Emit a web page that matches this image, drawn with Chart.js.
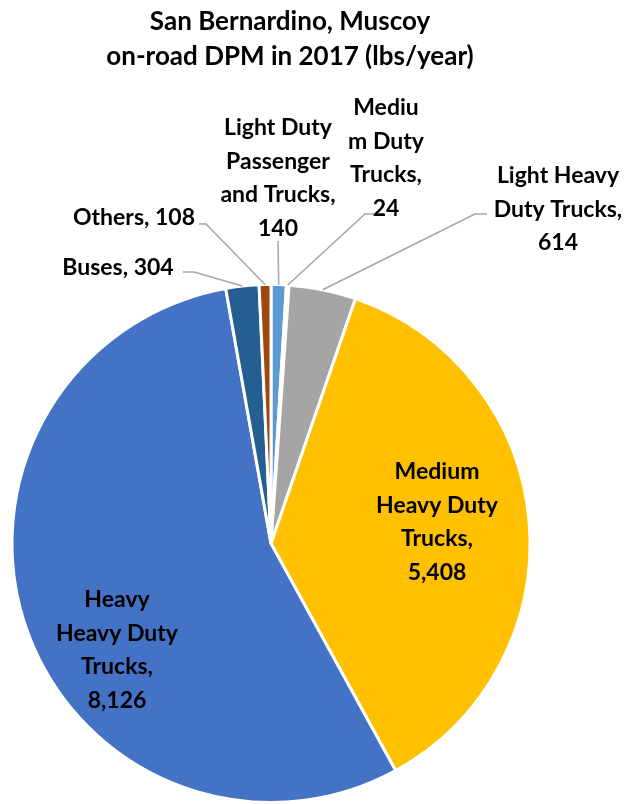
<!DOCTYPE html>
<html>
<head>
<meta charset="utf-8">
<script src="https://cdn.jsdelivr.net/npm/chart.js@4.4.1/dist/chart.umd.min.js"></script>
<style>
  html, body { margin: 0; padding: 0; background: #fff; }
  canvas { display: block; }
</style>
</head>
<body>
<canvas id="dpm-pie" width="626" height="804"></canvas>
<script>
/* ---- Data ---- */
const TITLE_LINES = ['San Bernardino, Muscoy', 'on-road DPM in 2017 (lbs/year)'];
const CATEGORIES = [
  'Light Duty Passenger and Trucks',
  'Medium Duty Trucks',
  'Light Heavy Duty Trucks',
  'Medium Heavy Duty Trucks',
  'Heavy Heavy Duty Trucks',
  'Buses',
  'Others',
];
const VALUES = [140, 24, 614, 5408, 8126, 304, 108];
const COLORS = ['#5B9BD5', '#70AD47', '#A5A5A5', '#FFC000', '#4472C4', '#255E91', '#9E480E'];

/* ---- Label layout (text lines, anchor, optional leader line) ---- */
const LABELS = [
  { lines: ['Light Duty', 'Passenger', 'and Trucks,', '140'], x: 278, y: 128, leader: [[278, 241]] },
  { lines: ['Mediu', 'm Duty', 'Trucks,', '24'], x: 386, y: 108, leader: [[365, 214], [374, 214]] },
  { lines: ['Light Heavy', 'Duty Trucks,', '614'], x: 558, y: 176, leader: [[475, 214], [487, 214]] },
  { lines: ['Medium', 'Heavy Duty', 'Trucks,', '5,408'], x: 437, y: 472 },
  { lines: ['Heavy', 'Heavy Duty', 'Trucks,', '8,126'], x: 117, y: 600 },
  { lines: ['Buses, 304'], x: 118, y: 268, leader: [[194, 272], [183, 272]] },
  { lines: ['Others, 108'], x: 134, y: 218, leader: [[206, 224], [199, 224]] },
];

const FONT = 'Lato, "Open Sans", sans-serif';
const LINE_H = 33.5;

/* ---- Plugin: title, labels and leader lines ---- */
const labelPlugin = {
  id: 'pieLabels',
  afterDraw(chart) {
    const ctx = chart.ctx;
    const arcs = chart.getDatasetMeta(0).data;
    ctx.save();

    // title
    ctx.fillStyle = '#000';
    ctx.textAlign = 'center';
    ctx.textBaseline = 'middle';
    ctx.font = `bold 26px ${FONT}`;
    ctx.fillText(TITLE_LINES[0], 290, 22);
    ctx.fillText(TITLE_LINES[1], 290, 57);

    // leader lines: from slice edge midpoint to elbow/end points
    ctx.strokeStyle = '#A6A6A6';
    ctx.lineWidth = 1.5;
    LABELS.forEach((lab, i) => {
      if (!lab.leader) return;
      const a = arcs[i];
      const mid = (a.startAngle + a.endAngle) / 2;
      const sx = a.x + Math.cos(mid) * a.outerRadius;
      const sy = a.y + Math.sin(mid) * a.outerRadius;
      ctx.beginPath();
      ctx.moveTo(sx, sy);
      lab.leader.forEach(([px, py]) => ctx.lineTo(px, py));
      ctx.stroke();
    });

    // label text
    ctx.font = `bold 23px ${FONT}`;
    ctx.fillStyle = '#000';
    LABELS.forEach((lab) => {
      lab.lines.forEach((t, k) => ctx.fillText(t, lab.x, lab.y + k * LINE_H));
    });
    ctx.restore();
  },
};

new Chart(document.getElementById('dpm-pie'), {
  type: 'pie',
  data: {
    labels: CATEGORIES,
    datasets: [{
      data: VALUES,
      backgroundColor: COLORS,
      borderColor: '#fff',
      borderWidth: 3,
      hoverOffset: 0,
    }],
  },
  options: {
    responsive: false,
    animation: false,
    layout: { padding: { left: 9, right: 93, top: 283, bottom: 0 } },
    plugins: {
      legend: { display: false },
      tooltip: { enabled: false },
      title: { display: false },
    },
  },
  plugins: [labelPlugin],
});
</script>
</body>
</html>
